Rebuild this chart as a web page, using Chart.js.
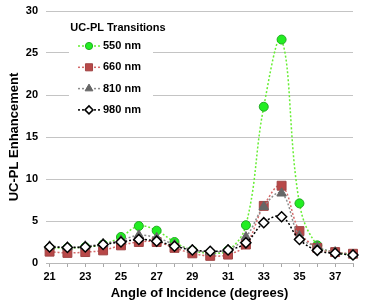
<!DOCTYPE html>
<html lang="en">
<head>
  <meta charset="UTF-8" />
  <title>UC-PL Enhancement vs Angle</title>
  <style>
    html, body { margin: 0; padding: 0; background: #fff; }
    #wrap { width: 374px; height: 306px; }
  </style>
</head>
<body>
  <div id="wrap"><canvas id="chart"></canvas></div>

  <script src="https://cdn.jsdelivr.net/npm/chart.js"></script>
  <script>
    // angle of incidence (degrees)
    const angles = [21, 22, 23, 24, 25, 26, 27, 28, 29, 30, 31, 32, 33, 34, 35, 36, 37, 38];

    // UC-PL enhancement per transition
    const nm550 = [1.8, 1.8, 1.9, 2.2, 3.1, 4.4, 3.85, 2.5, 1.5, 1.2, 1.5, 4.5, 18.6, 26.6, 7.1, 2.1, 1.3, 1.0];
    const nm660 = [1.35, 1.2, 1.3, 1.5, 2.1, 2.5, 2.5, 1.8, 1.15, 0.85, 1.0, 2.2, 6.8, 9.2, 3.8, 1.8, 1.3, 1.1];
    const nm810 = [2.0, 1.9, 2.0, 2.3, 2.7, 3.3, 3.0, 2.2, 1.6, 1.3, 1.6, 3.1, 6.7, 8.3, 3.2, 1.9, 1.3, 1.0];
    const nm980 = [1.9, 1.85, 1.9, 2.2, 2.5, 2.8, 2.6, 2.0, 1.55, 1.4, 1.55, 2.4, 4.8, 5.5, 2.8, 1.5, 1.15, 0.95];

    const yTicks = [0, 5, 10, 15, 20, 25, 30];

    const FONT = "'Liberation Sans', Arial, sans-serif";

    const pts = arr => arr.map((v, i) => ({ x: angles[i], y: v }));

    // legend sits inside the plot, like the original
    const legendInside = {
      id: 'legendInside',
      beforeDatasetsDraw(chart) {
        const ctx = chart.ctx;
        ctx.save();
        ctx.fillStyle = '#fff';
        ctx.fillRect(69, 17, 84, 104);
        ctx.fillStyle = '#000';
        ctx.font = 'bold 11px ' + FONT;
        ctx.textBaseline = 'middle';
        ctx.textAlign = 'center';
        ctx.fillText('UC-PL Transitions', 118, 28);
        ctx.textAlign = 'left';
        chart.data.datasets.forEach((ds, i) => {
          const y = 46 + i * 21.3;
          ctx.strokeStyle = ds.borderColor;
          ctx.lineWidth = ds.borderWidth;
          ctx.setLineDash(ds.borderDash);
          ctx.beginPath();
          ctx.moveTo(78, y);
          ctx.lineTo(100, y);
          ctx.stroke();
          ctx.setLineDash([]);
          ctx.fillStyle = ds.pointBackgroundColor;
          ctx.strokeStyle = ds.pointBorderColor;
          ctx.lineWidth = ds.pointBorderWidth;
          Chart.helpers.drawPoint(ctx, {
            pointStyle: ds.pointStyle,
            radius: ds.legendRadius,
            borderWidth: ds.pointBorderWidth,
            rotation: 0
          }, 89, y);
          ctx.fillStyle = '#000';
          ctx.fillText(ds.label, 103, y);
        });
        ctx.restore();
      }
    };

    const ctx = document.getElementById('chart').getContext('2d');

    new Chart(ctx, {
      type: 'line',
      data: {
        datasets: [
          {
            label: '550 nm',
            data: pts(nm550),
            borderColor: '#66ee33',
            borderWidth: 1.5,
            borderDash: [2, 2],
            pointStyle: 'circle',
            pointRadius: 4.5,
            legendRadius: 3.6,
            pointBackgroundColor: '#22ee22',
            pointBorderColor: '#22aa22',
            pointBorderWidth: 1,
            tension: 0.4,
            order: 4
          },
          {
            label: '660 nm',
            data: pts(nm660),
            borderColor: '#d46a6a',
            borderWidth: 1.5,
            borderDash: [2, 2],
            pointStyle: 'rect',
            pointRadius: 6.3,
            legendRadius: 5,
            pointBackgroundColor: '#b84848',
            pointBorderColor: '#a04444',
            pointBorderWidth: 1,
            tension: 0.4,
            order: 3
          },
          {
            label: '810 nm',
            data: pts(nm810),
            borderColor: '#8c8c8c',
            borderWidth: 1.5,
            borderDash: [2, 2],
            pointStyle: 'triangle',
            pointRadius: 5.5,
            legendRadius: 4.5,
            pointBackgroundColor: '#666666',
            pointBorderColor: '#666666',
            pointBorderWidth: 1,
            tension: 0.4,
            order: 2
          },
          {
            label: '980 nm',
            data: pts(nm980),
            borderColor: '#000000',
            borderWidth: 1.5,
            borderDash: [2, 2],
            pointStyle: 'rectRot',
            pointRadius: 5,
            legendRadius: 4,
            pointBackgroundColor: '#ffffff',
            pointBorderColor: '#000000',
            pointBorderWidth: 1.5,
            tension: 0.4,
            order: 1
          }
        ]
      },
      options: {
        responsive: true,
        maintainAspectRatio: false,
        animation: false,
        datasets: { line: { clip: false } },
        layout: { padding: { top: 11, right: 21, left: 0, bottom: 0 } },
        plugins: {
          legend: { display: false },
          tooltip: { enabled: false }
        },
        scales: {
          x: {
            type: 'linear',
            min: 20.8,
            max: 38,
            afterBuildTicks: s => { s.ticks = angles.map(v => ({ value: v })); },
            afterFit: s => { s.height = 43; s.paddingLeft = 0; s.paddingRight = 0; },
            ticks: {
              autoSkip: false,
              maxRotation: 0,
              padding: 3,
              color: '#000',
              font: { family: FONT, size: 11, weight: 'bold' },
              callback: v => (v % 2 === 1 ? v : '')
            },
            grid: { drawOnChartArea: false, drawTicks: true, tickLength: 4, color: '#a8a8a8' },
            border: { display: true, color: '#b8b8b8' },
            title: {
              display: true,
              text: 'Angle of Incidence (degrees)',
              color: '#000',
              font: { family: FONT, size: 13, weight: 'bold' },
              padding: { top: 0, bottom: 5 }
            }
          },
          y: {
            min: 0,
            max: 30,
            afterBuildTicks: s => { s.ticks = yTicks.map(v => ({ value: v })); },
            afterFit: s => { s.width = 46; s.paddingTop = 0; s.paddingBottom = 0; },
            ticks: {
              padding: 8,
              color: '#000',
              font: { family: FONT, size: 11, weight: 'bold' }
            },
            grid: { color: '#c4c4c4', drawTicks: false },
            border: { display: false },
            title: {
              display: true,
              text: 'UC-PL Enhancement',
              color: '#000',
              font: { family: FONT, size: 13, weight: 'bold' },
              padding: { top: 7, bottom: 0 }
            }
          }
        }
      },
      plugins: [legendInside]
    });
  </script>
</body>
</html>
